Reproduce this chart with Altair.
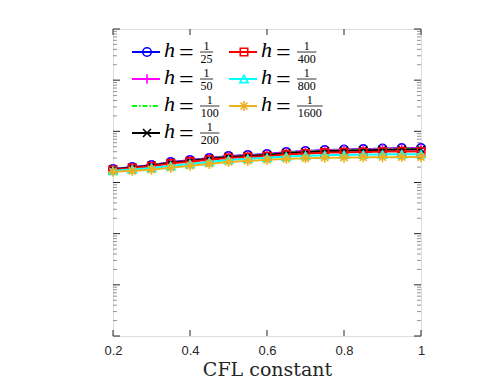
import altair as alt
import pandas as pd

cfl = [0.2, 0.25, 0.3, 0.35, 0.4, 0.45, 0.5, 0.55, 0.6, 0.65, 0.7, 0.75, 0.8, 0.85, 0.9, 0.95, 1.0]
h_den = ["25", "50", "100", "200", "400", "800", "1600"]

err_25 = [1.83e-3, 2.00e-3, 2.19e-3, 2.50e-3, 2.74e-3, 3.00e-3, 3.28e-3, 3.43e-3, 3.59e-3, 3.93e-3, 4.10e-3, 4.30e-3, 4.40e-3, 4.49e-3, 4.59e-3, 4.70e-3, 4.70e-3]
err_50 = [1.82e-3, 1.98e-3, 2.17e-3, 2.47e-3, 2.71e-3, 2.97e-3, 3.25e-3, 3.40e-3, 3.55e-3, 3.89e-3, 4.06e-3, 4.26e-3, 4.36e-3, 4.44e-3, 4.54e-3, 4.65e-3, 4.65e-3]
err_100 = [1.80e-3, 1.96e-3, 2.14e-3, 2.44e-3, 2.67e-3, 2.92e-3, 3.19e-3, 3.33e-3, 3.48e-3, 3.81e-3, 3.97e-3, 4.16e-3, 4.26e-3, 4.35e-3, 4.44e-3, 4.55e-3, 4.55e-3]
err_200 = [1.80e-3, 1.96e-3, 2.14e-3, 2.43e-3, 2.65e-3, 2.90e-3, 3.16e-3, 3.30e-3, 3.44e-3, 3.76e-3, 3.91e-3, 4.09e-3, 4.17e-3, 4.25e-3, 4.33e-3, 4.42e-3, 4.42e-3]
err_400 = [1.76e-3, 1.91e-3, 2.08e-3, 2.36e-3, 2.56e-3, 2.78e-3, 3.02e-3, 3.14e-3, 3.26e-3, 3.55e-3, 3.68e-3, 3.83e-3, 3.89e-3, 3.94e-3, 4.00e-3, 4.06e-3, 4.05e-3]
err_800 = [1.70e-3, 1.80e-3, 1.92e-3, 2.10e-3, 2.30e-3, 2.52e-3, 2.76e-3, 2.90e-3, 3.04e-3, 3.22e-3, 3.32e-3, 3.42e-3, 3.46e-3, 3.50e-3, 3.54e-3, 3.57e-3, 3.58e-3]
err_1600 = [1.62e-3, 1.69e-3, 1.78e-3, 1.94e-3, 2.12e-3, 2.31e-3, 2.52e-3, 2.64e-3, 2.77e-3, 2.90e-3, 2.97e-3, 3.04e-3, 3.06e-3, 3.10e-3, 3.12e-3, 3.14e-3, 3.14e-3]
series = [err_25, err_50, err_100, err_200, err_400, err_800, err_1600]

x_ticks = [0.2, 0.4, 0.6, 0.8, 1.0]
y_major = [1e-6, 1e-5, 1e-4, 1e-3, 1e-2, 1e-1, 1e0]
y_minor = [k * 10.0 ** e for e in range(-6, 0) for k in range(2, 10)]

colors = ["#0000FF", "#FF00FF", "#00FF00", "#000000", "#FF0000", "#00FFFF", "#EDB120"]
ASTER = "M-1,0L1,0M0,-1L0,1M-0.7,-0.7L0.7,0.7M-0.7,0.7L0.7,-0.7"
shapes = ["circle", "M-1,0L1,0M0,-1L0,1", None, "M-1,-1L1,1M-1,1L1,-1", "square", "triangle-up", ASTER]
msizes = [72, 90, 0, 64, 56, 70, 100]

W, H = 308, 307
AX = "#262626"
SERIF = "Liberation Serif"

xs = alt.Scale(domain=[0.2, 1.0], nice=False, zero=False)
ys = alt.Scale(type="log", domain=[1e-6, 1.0], nice=False)
x_axis = alt.Axis(values=x_ticks, format="~g", ticks=False, domain=False, grid=False,
                  labelFont="Liberation Sans", labelFontSize=13, labelColor=AX, labelPadding=8,
                  labelFlush=False,
                  title="CFL constant", titleFont="DejaVu Serif", titleFontSize=19,
                  titleFontWeight="normal", titleColor=AX, titleBaseline="alphabetic",
                  titleY=39)

def xenc():
    return alt.X("cfl:Q", scale=xs, axis=x_axis)

def yenc():
    return alt.Y("err:Q", scale=ys, axis=None)

layers = []
for i, vals in enumerate(series):
    df = pd.DataFrame({"cfl": cfl, "err": vals})
    base = alt.Chart(df)
    dash = [5, 2, 1.5, 2] if shapes[i] is None else [1, 0]
    layers.append(base.mark_line(color=colors[i], strokeWidth=2, strokeDash=dash).encode(x=xenc(), y=yenc()))
    if shapes[i] is not None:
        layers.append(base.mark_point(shape=shapes[i], color=colors[i], filled=False,
                                      strokeWidth=1.6, size=msizes[i], opacity=1)
                      .encode(x=xenc(), y=yenc()))

# ticks (inward)
xt = alt.Chart(pd.DataFrame({"cfl": x_ticks}))
layers.append(xt.mark_rule(color=AX, strokeWidth=1).encode(x=xenc(), y=alt.value(H), y2=alt.value(H - 6)))
layers.append(xt.mark_rule(color=AX, strokeWidth=1).encode(x=xenc(), y=alt.value(0), y2=alt.value(6)))
ymj = alt.Chart(pd.DataFrame({"err": y_major}))
ymn = alt.Chart(pd.DataFrame({"err": y_minor}))
layers.append(ymj.mark_rule(color=AX, strokeWidth=1).encode(y=yenc(), x=alt.value(0), x2=alt.value(7)))
layers.append(ymj.mark_rule(color=AX, strokeWidth=1).encode(y=yenc(), x=alt.value(W), x2=alt.value(W - 7)))
layers.append(ymn.mark_rule(color="#666666", strokeWidth=0.7).encode(y=yenc(), x=alt.value(0), x2=alt.value(4)))
layers.append(ymn.mark_rule(color="#666666", strokeWidth=0.7).encode(y=yenc(), x=alt.value(W), x2=alt.value(W - 4)))

# manual legend
one = alt.Chart(pd.DataFrame({"k": [0]}))
for i, lab in enumerate(h_den):
    c = 0 if i < 4 else 1
    r = i if i < 4 else i - 4
    x0 = 19 + c * 97
    yy = 23 + r * 27
    dash = [5, 2, 1.5, 2] if shapes[i] is None else [1, 0]
    layers.append(one.mark_rule(color=colors[i], strokeWidth=2, strokeDash=dash)
                  .encode(x=alt.value(x0), x2=alt.value(x0 + 28), y=alt.value(yy)))
    if shapes[i] is not None:
        layers.append(one.mark_point(shape=shapes[i], color=colors[i], filled=False,
                                     strokeWidth=1.6, size=msizes[i], opacity=1)
                      .encode(x=alt.value(x0 + 15), y=alt.value(yy)))
    layers.append(one.mark_text(text="h", font=SERIF, fontStyle="italic", fontSize=22, fill="black",
                                align="left", baseline="alphabetic")
                  .encode(x=alt.value(x0 + 32), y=alt.value(yy + 5)))
    layers.append(one.mark_text(text="=", font=SERIF, fontSize=26, fill="black",
                                align="left", baseline="middle")
                  .encode(x=alt.value(x0 + 47), y=alt.value(yy + 1)))
    fl = x0 + 68
    fw = len(lab) * 6.3 + 0.5
    layers.append(one.mark_rule(color="black", strokeWidth=0.8)
                  .encode(x=alt.value(fl), x2=alt.value(fl + fw), y=alt.value(yy)))
    layers.append(one.mark_text(text="1", font=SERIF, fontSize=12, fill="black",
                                align="center", baseline="middle")
                  .encode(x=alt.value(fl + fw / 2), y=alt.value(yy - 6.5)))
    layers.append(one.mark_text(text=lab, font=SERIF, fontSize=12, fill="black",
                                align="center", baseline="middle")
                  .encode(x=alt.value(fl + fw / 2), y=alt.value(yy + 7)))

chart = alt.layer(*layers).properties(
    width=W, height=H,
    autosize=alt.AutoSizeParams(type="none"),
    padding={"left": 105, "top": 21, "right": 70, "bottom": 43},
).configure_view(stroke=AX, strokeWidth=1).configure(background="white")

chart.save("out.html", embed_options={"renderer": "svg", "actions": False})
